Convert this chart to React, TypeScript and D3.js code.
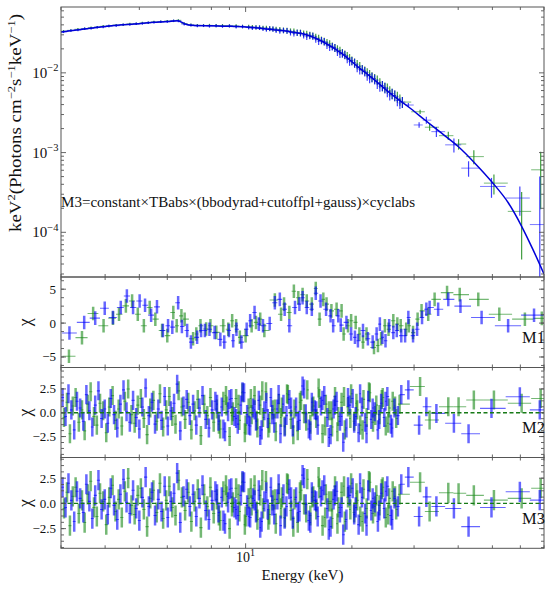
import * as d3 from "d3";

// ---------- data ----------
// model curve, keV^2 (photons cm^-2 s^-1 keV^-1)
const modelEnergy = [3, 3.5, 4, 4.5, 5, 5.5, 6, 6.4, 6.8, 7.2, 8, 9, 10, 11, 12, 13.5, 15, 16.8, 18.7, 20.8, 23.2, 25.9, 28.9, 32.2, 35.9, 40, 44.6, 49.7, 55.5, 60.5, 65, 70];
const modelFlux = [0.0326, 0.0355, 0.0381, 0.04, 0.0414, 0.043, 0.044, 0.0452, 0.0405, 0.0392, 0.0389, 0.0385, 0.0376, 0.0363, 0.0348, 0.0325, 0.0296, 0.0237, 0.0175, 0.0119, 0.0081, 0.00537, 0.00376, 0.00256, 0.00175, 0.00119, 0.000737, 0.000434, 0.000233, 0.000119, 0.000062, 0.00003];

// unfolded spectrum, dense part (shared bins)
const mainEnergy = [3.05, 3.2, 3.35, 3.5, 3.65, 3.8, 3.95, 4.1, 4.3, 4.5, 4.7, 4.9, 5.1, 5.3, 5.5, 5.75, 6.0, 6.25, 6.45, 6.7, 7.0, 7.3, 7.6, 7.9, 8.25, 8.6, 9.0, 9.4, 9.8, 10.2, 10.7, 11.2, 11.7, 12.2, 12.8, 13.4, 14.0, 14.6, 15.2, 15.8, 16.4, 17.0, 17.6, 18.2, 18.8, 19.4, 20.0, 20.7, 21.4, 22.1, 22.8, 23.6, 24.4, 25.2, 26.0, 26.9, 27.8];
const mainFluxA = [0.0327, 0.034, 0.0345, 0.0357, 0.0361, 0.0374, 0.0377, 0.0387, 0.039, 0.0403, 0.0403, 0.0413, 0.0415, 0.0426, 0.0428, 0.0437, 0.0438, 0.045, 0.0448, 0.0409, 0.0397, 0.0388, 0.0391, 0.0386, 0.039, 0.0384, 0.0388, 0.0379, 0.0381, 0.037, 0.0371, 0.0357, 0.0358, 0.0343, 0.0341, 0.0321, 0.0318, 0.0297, 0.0294, 0.0265, 0.0255, 0.0224, 0.0214, 0.0184, 0.0176, 0.015, 0.0141, 0.0117, 0.011, 0.0092, 0.0088, 0.0073, 0.0069, 0.0058, 0.0055, 0.0045, 0.0043];
const mainFluxB = [0.0333, 0.0341, 0.0352, 0.0358, 0.0368, 0.0375, 0.0384, 0.0388, 0.0397, 0.0402, 0.0411, 0.0413, 0.0422, 0.0425, 0.0436, 0.0437, 0.0446, 0.0449, 0.0456, 0.0416, 0.0399, 0.0394, 0.0393, 0.0394, 0.0391, 0.0392, 0.0389, 0.0387, 0.0382, 0.0379, 0.0372, 0.0367, 0.0359, 0.0353, 0.0342, 0.0333, 0.032, 0.0311, 0.0297, 0.0282, 0.0258, 0.024, 0.0217, 0.0199, 0.0178, 0.0163, 0.0143, 0.0128, 0.0111, 0.0101, 0.0089, 0.0081, 0.0069, 0.0064, 0.0055, 0.005, 0.0043];
const mainRelErr = [0.035, 0.035, 0.035, 0.035, 0.035, 0.035, 0.035, 0.035, 0.035, 0.035, 0.035, 0.035, 0.035, 0.035, 0.035, 0.035, 0.035, 0.035, 0.035, 0.04, 0.04, 0.04, 0.04, 0.045, 0.045, 0.045, 0.045, 0.05, 0.05, 0.055, 0.06, 0.065, 0.07, 0.075, 0.08, 0.085, 0.09, 0.095, 0.1, 0.1, 0.105, 0.11, 0.11, 0.115, 0.12, 0.12, 0.125, 0.13, 0.13, 0.135, 0.14, 0.14, 0.145, 0.15, 0.15, 0.155, 0.16];
// extra spectrum bins between 10 and 28 keV
const mainExtraEnergy = [10.45, 10.95, 11.45, 11.95, 12.5, 13.1, 13.7, 14.3, 14.9, 15.5, 16.1, 16.7, 17.3, 17.9, 18.5, 19.1, 19.7, 20.35, 21.05, 21.75, 22.45, 23.2, 24.0, 24.8, 25.6, 26.45, 27.35];
const mainExtraFluxA = [0.0366, 0.0369, 0.0352, 0.0355, 0.0336, 0.0337, 0.0313, 0.0316, 0.0288, 0.029, 0.025, 0.0247, 0.0211, 0.0206, 0.0174, 0.0168, 0.014, 0.0133, 0.011, 0.0104, 0.0086, 0.0083, 0.0068, 0.0065, 0.0053, 0.0052, 0.0042];
const mainExtraFluxB = [0.0375, 0.037, 0.0364, 0.0356, 0.0349, 0.0338, 0.033, 0.0318, 0.0306, 0.0292, 0.0272, 0.0249, 0.0231, 0.0207, 0.019, 0.017, 0.0153, 0.0134, 0.0121, 0.0106, 0.0095, 0.0085, 0.0075, 0.0066, 0.0059, 0.0052, 0.0046];
const mainExtraRelErr = [0.06, 0.065, 0.07, 0.075, 0.08, 0.085, 0.09, 0.095, 0.1, 0.1, 0.105, 0.11, 0.11, 0.115, 0.12, 0.12, 0.125, 0.13, 0.13, 0.135, 0.14, 0.14, 0.145, 0.15, 0.15, 0.155, 0.16];

// high-energy bins (spectrum, M2 and M3 residuals)
const highEnergyA = [28.9, 31.0, 32.5, 34.7, 38.9, 42.8, 49.7, 59.8, 68.1];
const highFluxA = [0.00395, 0.00222, 0.00255, 0.00183, 0.00125, 0.000638, 0.000376, 0.000269, 0.000125];
const highRelErrA = [0.06, 0.08, 0.1, 0.14, 0.2, 0.22, 0.28, 0.4, 3.0];
const highEnergyB = [31.2, 33.2, 37.5, 40.1, 44.3, 50.5, 60.5, 68.5];
const highFluxB = [0.00325, 0.00208, 0.00163, 0.00128, 0.00089, 0.000414, 0.000183, 0.000608];
const highRelErrB = [0.06, 0.1, 0.12, 0.15, 0.2, 0.28, 0.75, 0.68];

// M1 residuals
const m1EnergyA = [3.17, 3.49, 3.75, 3.99, 4.21, 4.43, 4.61, 4.8, 5.01, 5.19, 5.4, 5.61, 5.83, 6.03, 6.2, 6.44, 6.6, 6.83, 7.0, 7.29, 7.48, 7.67, 7.9, 8.17, 8.48, 8.7, 8.97, 9.22, 9.42, 9.73, 10.07, 10.3, 10.6, 10.9, 11.2, 11.7, 12.1, 12.5, 12.9, 13.3, 13.8, 14.2, 14.5, 14.9, 15.4, 15.8, 16.3, 16.9, 17.4, 17.7, 18.3, 18.6, 19.3, 19.9, 20.4, 20.8, 21.5, 22.2, 22.9, 23.5, 24.0, 24.4, 24.9, 25.5, 26.2, 26.8, 27.6, 28.3, 28.9, 29.8, 30.6, 31.6, 32.5, 33.2, 35.1, 37.5, 40.6, 46.6, 55.4, 65.6];
const m1ChiA = [-1.46, 0.1, 0.73, 2.2, 0.83, 2.3, 4.0, 2.3, 3.27, 2.63, 1.17, 2.4, -1.1, -0.4, -0.6, 3.0, -0.5, -1.1, -2.8, -2.1, -1.1, -1.1, -0.9, -1.4, -2.4, -2.8, -1.1, -2.6, -0.9, -2.8, -0.9, 0.34, 1.56, -0.15, -0.4, -0.05, 3.0, 3.5, 2.05, -0.4, 2.3, 2.8, 3.75, 2.3, 2.05, 4.4, 3.27, 2.05, 1.07, -0.4, 1.07, -0.3, 0.1, -1.6, -2.1, -2.6, -1.1, -2.3, -2.8, -1.6, -0.15, -2.1, -2.6, -0.4, -1.4, -1.1, -1.85, -1.85, 0.83, -1.85, -0.9, 0.83, 2.05, 2.3, 2.05, 3.5, 2.5, 0.83, -0.4, 1.17];
const m1EnergyB = [3.16, 3.44, 3.7, 3.96, 4.21, 4.38, 4.58, 4.77, 4.95, 5.15, 5.35, 5.55, 5.8, 6.0, 6.24, 6.38, 6.58, 6.72, 7.1, 7.25, 7.45, 7.73, 7.95, 8.26, 8.64, 8.93, 9.16, 9.4, 9.63, 10.0, 10.4, 10.7, 11.0, 11.3, 12.1, 12.6, 12.85, 13.3, 13.7, 14.1, 14.5, 14.9, 15.4, 15.8, 16.2, 16.6, 16.95, 17.5, 18.1, 18.7, 18.95, 19.5, 19.9, 20.5, 21.0, 21.5, 22.0, 23.1, 23.7, 24.2, 24.8, 25.4, 26.2, 26.9, 27.5, 28.5, 29.0, 29.8, 30.7, 31.5, 32.9, 34.3, 37.2, 40.4, 45.6, 52.3, 61.8, 69.0];
const m1ChiB = [-4.9, -2.15, 1.41, -0.39, 0.73, 1.3, 2.54, 3.27, 1.3, -0.4, 2.3, 0.58, -1.1, -1.85, 1.56, -0.4, 1.07, 0.58, -2.3, -1.6, -0.4, -0.88, -0.4, -1.37, -0.4, -0.9, 0.34, -0.4, -2.1, -1.85, -0.4, 0.1, 0.58, -1.1, 3.4, 1.3, 2.8, 1.56, 4.7, 3.75, 4.2, 3.27, 2.8, 5.1, 0.58, 3.5, 2.8, 1.8, 2.05, 1.8, -1.6, -0.4, 0.34, 0.1, -1.6, -2.8, -1.6, -3.6, -3.3, -2.3, -0.4, -0.9, 0.34, -0.15, -0.4, -0.9, -0.4, -1.4, 0.58, 1.8, 1.3, 3.5, 4.5, 4.2, 3.5, 1.3, 0.58, 0.7];

// M2 / M3 residuals, dense part (the two fits agree below ~28 keV)
const denseEnergyA = [3.03, 3.09, 3.15, 3.21, 3.27, 3.33, 3.4, 3.47, 3.54, 3.61, 3.68, 3.75, 3.83, 3.91, 3.99, 4.07, 4.15, 4.24, 4.33, 4.42, 4.51, 4.6, 4.7, 4.8, 4.9, 5.0, 5.1, 5.21, 5.32, 5.43, 5.54, 5.66, 5.78, 5.9, 6.02, 6.14, 6.27, 6.4, 6.53, 6.67, 6.81, 6.95, 7.1, 7.25, 7.4, 7.55, 7.71, 7.87, 8.04, 8.21, 8.38, 8.56, 8.74, 8.92, 9.11, 9.3, 9.5, 9.7, 9.9, 10.1, 10.3, 10.5, 10.7, 10.9, 11.1, 11.3, 11.55, 11.8, 12.05, 12.3, 12.55, 12.8, 13.05, 13.3, 13.6, 13.9, 14.2, 14.5, 14.8, 15.1, 15.4, 15.7, 16.0, 16.35, 16.7, 17.05, 17.4, 17.75, 18.1, 18.5, 18.9, 19.3, 19.7, 20.1, 20.5, 20.9, 21.35, 21.8, 22.25, 22.7, 23.2, 23.7, 24.2, 24.7, 25.2, 25.8, 26.4, 27.0, 27.6];
const denseChiA = [1.6, -0.4, 2.0, 0.3, -1.8, 1.2, 0.5, -0.9, 1.9, 0.2, -1.5, 0.8, 2.3, -0.6, 0.4, -1.1, 1.5, -0.2, -1.6, 0.9, 2.4, 0.1, -1.0, 1.3, -0.5, -1.7, 0.6, 2.6, -0.3, 1.1, -1.2, 0.4, -0.8, 1.7, -1.4, 0.2, 1.0, 3.0, -1.9, 0.7, 1.4, -0.3, 0.9, -1.3, 0.5, 1.8, -0.7, -1.6, 0.3, 1.2, -0.9, 0.6, -2.0, 0.1, 1.5, -0.4, -1.2, 0.8, 2.1, -0.2, -1.4, 0.5, -0.9, 1.3, -1.8, 0.2, -0.6, 1.6, -1.1, 0.4, -2.2, 0.9, -0.3, 1.4, -1.5, 0.6, -0.8, 2.8, -0.1, -1.7, 1.1, 0.3, -1.3, 0.7, 1.8, -0.5, -2.3, 0.4, 1.2, -0.9, -3.1, -1.6, 0.8, 1.5, -0.4, -2.1, 0.6, -1.0, 1.3, -0.7, 0.1, -1.8, 1.0, -0.5, 1.7, -1.2, 0.5, -0.3, 1.9];
const denseEnergyB = [3.06, 3.12, 3.18, 3.24, 3.3, 3.37, 3.44, 3.5, 3.57, 3.64, 3.72, 3.79, 3.87, 3.95, 4.03, 4.11, 4.2, 4.28, 4.37, 4.46, 4.55, 4.65, 4.75, 4.85, 4.95, 5.05, 5.15, 5.26, 5.37, 5.48, 5.6, 5.72, 5.84, 5.96, 6.08, 6.2, 6.33, 6.46, 6.6, 6.74, 6.88, 7.02, 7.17, 7.32, 7.47, 7.63, 7.79, 7.95, 8.12, 8.29, 8.47, 8.65, 8.83, 9.01, 9.2, 9.4, 9.6, 9.8, 10.0, 10.2, 10.4, 10.6, 10.8, 11.0, 11.2, 11.42, 11.67, 11.92, 12.17, 12.42, 12.67, 12.92, 13.17, 13.45, 13.75, 14.05, 14.35, 14.65, 14.95, 15.25, 15.55, 15.85, 16.17, 16.52, 16.87, 17.22, 17.57, 17.92, 18.3, 18.7, 19.1, 19.5, 19.9, 20.3, 20.7, 21.12, 21.57, 22.02, 22.47, 22.95, 23.45, 23.95, 24.45, 24.95, 25.5, 26.1, 26.7, 27.3];
const denseChiB = [-0.5, 1.1, -2.2, 0.7, 1.6, -1.0, 0.3, -1.9, 0.9, 2.2, -0.4, -1.3, 1.0, 0.2, -2.1, 0.6, 1.8, -0.8, 0.4, -1.4, 1.2, 2.5, -0.2, -1.1, 0.8, 1.5, -0.6, -2.3, 0.5, 1.3, -0.9, 2.0, -1.5, 0.3, 1.7, -0.4, -1.2, 2.3, 0.6, -0.7, 1.1, -1.8, 0.2, 1.4, -2.4, 0.9, -0.3, 1.6, -1.0, 0.4, -1.7, 1.2, 0.7, -2.5, 0.1, 1.5, -0.8, 2.1, -1.3, 0.5, -0.2, 1.8, -1.6, 0.8, -0.5, 2.2, -1.1, 0.3, -2.0, 1.0, 0.6, -1.4, 1.9, -0.7, 0.4, -1.9, 1.3, -0.1, 2.4, -1.2, 0.7, -0.6, 1.5, -2.2, 0.9, 0.2, -1.5, 1.7, -0.4, 1.1, -1.8, 0.6, 2.0, -0.9, 0.3, -1.3, 1.4, -0.5, 2.1, -1.0, 0.8, -0.2, 1.6, -1.4, 0.5, 1.2, -0.6, 0.9];
// extra residual bins where the spectrum is most finely binned
const extraEnergyA = [8.3, 8.65, 9.0, 9.4, 9.8, 10.2, 10.6, 11.0, 11.45, 11.9, 12.4, 12.9, 13.45, 14.05, 14.65, 15.25, 15.85, 16.5, 17.2, 17.9, 18.7, 19.5, 20.3, 21.1, 22.0, 22.9, 23.9, 24.9, 26.0];
const extraChiA = [0.9, -1.7, 1.4, -0.6, 2.2, -1.3, 0.3, -2.4, 1.1, -0.2, 1.9, -1.5, 0.6, -0.9, 2.5, -1.9, 0.2, 1.3, -2.6, 0.8, -0.4, 1.6, -1.1, 2.0, -2.2, 0.5, -0.7, 1.2, -1.6];
const extraEnergyB = [8.4, 8.8, 9.15, 9.55, 9.95, 10.35, 10.75, 11.15, 11.6, 12.1, 12.6, 13.1, 13.65, 14.25, 14.85, 15.45, 16.1, 16.8, 17.5, 18.2, 19.0, 19.8, 20.6, 21.45, 22.35, 23.3, 24.3, 25.35, 26.5];
const extraChiB = [-1.2, 1.8, -0.3, 0.9, -2.1, 1.5, -0.8, 2.3, -1.6, 0.4, -0.5, 2.0, -2.3, 1.1, -0.9, 0.6, 2.6, -1.4, 0.2, -2.0, 1.7, -0.6, 1.0, -1.8, 2.2, -0.3, 1.4, -1.1, 0.7];

// high-energy residuals, same bins as highEnergyA / highEnergyB
const m2HighChiA = [2.4, -1.3, 0.63, -0.07, -1.1, -2.2, 0.46, 1.68, 0.3];
const m2HighChiB = [2.75, -0.77, 0.63, 0.63, 1.34, 1.34, 1.0, 1.5];
const m3HighChiA = [2.6, -1.3, 0.65, -0.3, -0.5, -2.3, -0.4, 1.15, 0.33];
const m3HighChiB = [2.1, -0.8, 1.05, 1.0, 0.8, 0.33, 0.5, 1.5];

const panelNames = ["M1", "M2", "M3"];
const modelFormula = "M3=constant×TBabs×(bbodyrad+cutoffpl+gauss)×cyclabs";

// ---------- drawing ----------
const FONT = "Liberation Serif";
const BLUE = "#0000ff";
const GREEN = "#1f8c1f";
const FRAME = "#555555";
const LEFT = 61;
const RIGHT = 544;

const x = d3.scaleLog().domain([3, 70]).range([LEFT, RIGHT]);
const xTicks = x.ticks();
const isDecade = (v: number) => Math.abs(Math.log10(v) - Math.round(Math.log10(v))) < 1e-6;

type Bar = { e: number; lo: number; hi: number; v: number; vlo: number; vhi: number };
type Row = [number, number, number];

// rows: [energy, value, error]; bins reach half way (in log) to the neighbours
function toBars(rows: Row[], relative: boolean, floor = -Infinity): Bar[] {
  const s = [...rows].sort((p, q) => p[0] - q[0]);
  return s.map(([e, v, err], i) => {
    const prev = i > 0 ? s[i - 1][0] : (e * e) / s[i + 1][0];
    const next = i < s.length - 1 ? s[i + 1][0] : (e * e) / s[i - 1][0];
    const d = relative ? v * err : err;
    return { e, lo: Math.sqrt(prev * e), hi: Math.sqrt(e * next), v, vlo: Math.max(v - d, floor), vhi: v + d };
  });
}

const rows = (energy: number[], vals: number[], err: number[] | number): Row[] =>
  energy.map((e, i) => [e, vals[i], Array.isArray(err) ? err[i] : err]);

function ErrorBars({ bars, y, color, opacity, hWidth, vWidth }: { bars: Bar[]; y: any; color: string; opacity: number; hWidth: number; vWidth: number }) {
  return (
    <g stroke={color} strokeOpacity={opacity} fill="none">
      {bars.map((b, i) => (
        <g key={i}>
          <line x1={x(b.lo)} x2={x(b.hi)} y1={y(b.v)} y2={y(b.v)} strokeWidth={hWidth} />
          <line x1={x(b.e)} x2={x(b.e)} y1={y(b.vlo)} y2={y(b.vhi)} strokeWidth={vWidth} />
        </g>
      ))}
    </g>
  );
}

function XTicks({ top, bottom }: { top: number; bottom: number }) {
  return (
    <g stroke={FRAME} strokeWidth={0.9}>
      {xTicks.map((t, i) => {
        const len = isDecade(t) ? 5 : 3;
        return (
          <g key={i}>
            <line x1={x(t)} x2={x(t)} y1={bottom} y2={bottom - len} />
            <line x1={x(t)} x2={x(t)} y1={top} y2={top + len} />
          </g>
        );
      })}
    </g>
  );
}

function ResidualPanel({ id, top, bottom, domain, major, minorStep, a, b, name, zero }: {
  id: string; top: number; bottom: number; domain: [number, number]; major: number[]; minorStep: number;
  a: Bar[]; b: Bar[]; name: string; zero: boolean;
}) {
  const y = d3.scaleLinear().domain(domain).range([bottom, top]);
  const minor = d3.range(Math.ceil(domain[0] / minorStep) * minorStep, domain[1], minorStep);
  const fmt = major.some((m) => m % 1 !== 0) ? d3.format(".1f") : d3.format("d");
  return (
    <g>
      <clipPath id={id}>
        <rect x={LEFT} y={top} width={RIGHT - LEFT} height={bottom - top} />
      </clipPath>
      <g clipPath={`url(#${id})`}>
        <ErrorBars bars={b} y={y} color={GREEN} opacity={0.62} hWidth={1.1} vWidth={2.5} />
        <ErrorBars bars={a} y={y} color={BLUE} opacity={0.6} hWidth={1.1} vWidth={2.5} />
        {zero && (
          <line x1={LEFT} x2={RIGHT} y1={y(0)} y2={y(0)} stroke="#177a17" strokeWidth={1.3} strokeDasharray="4,2.5" />
        )}
      </g>
      <rect x={LEFT} y={top} width={RIGHT - LEFT} height={bottom - top} fill="none" stroke={FRAME} strokeWidth={1} />
      <XTicks top={top} bottom={bottom} />
      <g stroke={FRAME} strokeWidth={0.9}>
        {minor.map((m, i) => (
          <g key={i}>
            <line x1={LEFT} x2={LEFT + 3} y1={y(m)} y2={y(m)} />
            <line x1={RIGHT} x2={RIGHT - 3} y1={y(m)} y2={y(m)} />
          </g>
        ))}
        {major.map((m, i) => (
          <g key={i}>
            <line x1={LEFT} x2={LEFT + 5} y1={y(m)} y2={y(m)} />
            <line x1={RIGHT} x2={RIGHT - 5} y1={y(m)} y2={y(m)} />
          </g>
        ))}
      </g>
      <g style={{ fontFamily: FONT }} fontSize={13} textAnchor="end" fill="#111">
        {major.map((m, i) => (
          <text key={i} x={56} y={y(m) + 4.5}>{fmt(m)}</text>
        ))}
      </g>
      <text transform={`translate(31,${(top + bottom) / 2}) rotate(-90)`} textAnchor="middle" style={{ fontFamily: FONT }} fontSize={18} fill="#111">χ</text>
      <text x={545} y={y(domain[0]) - (bottom - top) * 0.27} textAnchor="end" style={{ fontFamily: FONT }} fontSize={16.5} fill="#111">{name}</text>
    </g>
  );
}

export default function App() {
  const top = 7;
  const bottom = 277;
  const y = d3.scaleLog().domain([2.75e-5, 0.067]).range([bottom, top]);
  const floor = y.domain()[0] * 0.5;

  const mainA = toBars(
    [...rows(mainEnergy, mainFluxA, mainRelErr), ...rows(mainExtraEnergy, mainExtraFluxA, mainExtraRelErr), ...rows(highEnergyA, highFluxA, highRelErrA)],
    true, floor);
  const mainB = toBars(
    [...rows(mainEnergy, mainFluxB, mainRelErr), ...rows(mainExtraEnergy, mainExtraFluxB, mainExtraRelErr), ...rows(highEnergyB, highFluxB, highRelErrB)],
    true, floor);

  const modelLine = d3
    .line<number>()
    .curve(d3.curveMonotoneX)
    .x((_, i) => x(modelEnergy[i]))
    .y((f) => y(f))(modelFlux);

  const m1A = toBars(rows(m1EnergyA, m1ChiA, 1), false);
  const m1B = toBars(rows(m1EnergyB, m1ChiB, 1), false);
  const denseA = [...rows(denseEnergyA, denseChiA, 1), ...rows(extraEnergyA, extraChiA, 1)];
  const denseB = [...rows(denseEnergyB, denseChiB, 1), ...rows(extraEnergyB, extraChiB, 1)];
  const m2A = toBars([...denseA, ...rows(highEnergyA, m2HighChiA, 1)], false);
  const m2B = toBars([...denseB, ...rows(highEnergyB, m2HighChiB, 1)], false);
  const m3A = toBars([...denseA, ...rows(highEnergyA, m3HighChiA, 1)], false);
  const m3B = toBars([...denseB, ...rows(highEnergyB, m3HighChiB, 1)], false);

  const yTicks = y.ticks();

  return (
    <div style={{ position: "absolute", left: 0, top: 0, background: "#fff" }}>
      <svg width={550} height={589} style={{ display: "block", fontFamily: FONT }}>
        <rect width={550} height={589} fill="#fff" />
        <clipPath id="clip-main">
          <rect x={LEFT} y={top} width={RIGHT - LEFT} height={bottom - top} />
        </clipPath>
        <g clipPath="url(#clip-main)">
          <ErrorBars bars={mainB} y={y} color={GREEN} opacity={0.85} hWidth={0.7} vWidth={1.2} />
          <ErrorBars bars={mainA} y={y} color={BLUE} opacity={0.75} hWidth={0.7} vWidth={1.2} />
          <path d={modelLine ?? ""} fill="none" stroke="#0000d8" strokeWidth={1.5} />
        </g>
        <rect x={LEFT} y={top} width={RIGHT - LEFT} height={bottom - top} fill="none" stroke={FRAME} strokeWidth={1} />
        <XTicks top={top} bottom={bottom} />
        <g stroke={FRAME} strokeWidth={0.9}>
          {yTicks.map((t, i) => {
            const len = isDecade(t) ? 5 : 3;
            return (
              <g key={i}>
                <line x1={LEFT} x2={LEFT + len} y1={y(t)} y2={y(t)} />
                <line x1={RIGHT} x2={RIGHT - len} y1={y(t)} y2={y(t)} />
              </g>
            );
          })}
        </g>
        <g fontSize={15} textAnchor="end" fill="#111">
          {yTicks.filter(isDecade).map((t, i) => (
            <text key={i} x={58.5} y={y(t) + 5}>
              10<tspan fontSize={10.5} dy={-6.5}>{`−${Math.round(-Math.log10(t))}`}</tspan>
            </text>
          ))}
        </g>
        <text x={LEFT} y={207} fontSize={15} fill="#111" textLength={354} lengthAdjust="spacingAndGlyphs">
          {modelFormula}
        </text>
        <text transform="translate(21,123) rotate(-90)" textAnchor="middle" fontSize={16.5} fill="#111" textLength={218} lengthAdjust="spacingAndGlyphs">
          keV<tspan fontSize={11} dy={-6}>2</tspan>
          <tspan dy={6}>(Photons cm</tspan>
          <tspan fontSize={11} dy={-6}>−2</tspan>
          <tspan dy={6}>s</tspan>
          <tspan fontSize={11} dy={-6}>−1</tspan>
          <tspan dy={6}>keV</tspan>
          <tspan fontSize={11} dy={-6}>−1</tspan>
          <tspan dy={6}>)</tspan>
        </text>

        <ResidualPanel id="clip-m1" top={277} bottom={367.5} domain={[-6.55, 6.8]} major={[-5, 0, 5]} minorStep={1.25} a={m1A} b={m1B} name={panelNames[0]} zero={false} />
        <ResidualPanel id="clip-m2" top={367.5} bottom={457.5} domain={[-4.7, 4.75]} major={[-2.5, 0, 2.5]} minorStep={0.625} a={m2A} b={m2B} name={panelNames[1]} zero={true} />
        <ResidualPanel id="clip-m3" top={457.5} bottom={548.3} domain={[-4.45, 4.55]} major={[-2.5, 0, 2.5]} minorStep={0.625} a={m3A} b={m3B} name={panelNames[2]} zero={true} />

        <g fill="#111">
          {xTicks.filter(isDecade).map((t, i) => (
            <text key={i} x={x(t)} y={561.5} textAnchor="middle" fontSize={14}>
              10<tspan fontSize={10} dy={-6}>{Math.round(Math.log10(t))}</tspan>
            </text>
          ))}
          <text x={(LEFT + RIGHT) / 2} y={580} textAnchor="middle" fontSize={15}>Energy (keV)</text>
        </g>
      </svg>
    </div>
  );
}
